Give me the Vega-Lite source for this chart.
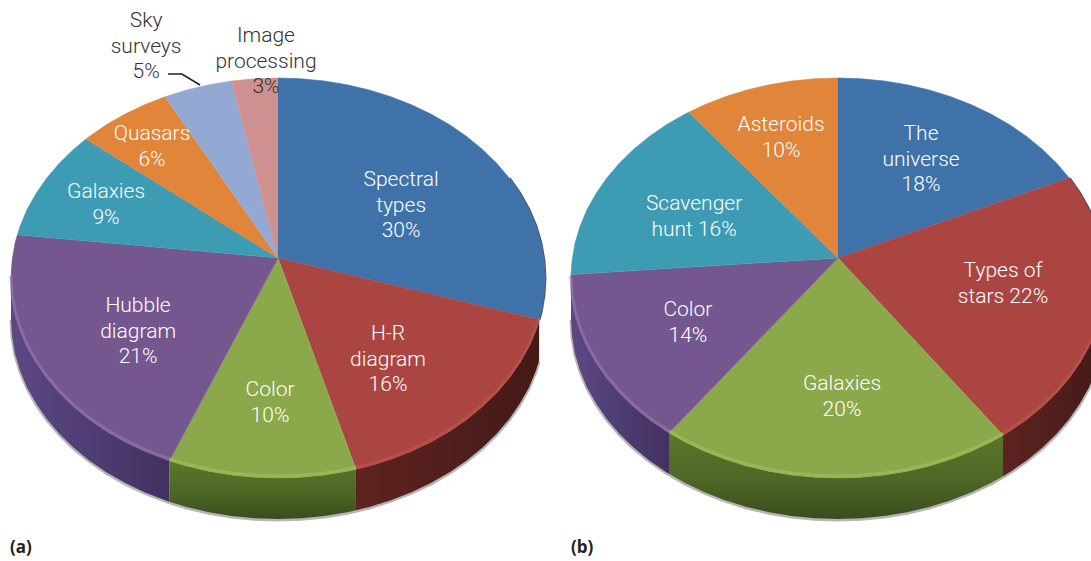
{
"$schema":"https://vega.github.io/schema/vega-lite/v6.json",
"background":"white","padding":0,"spacing":0,
"config":{"view":{"stroke":null},"concat":{"spacing":0}},
"datasets":{
"facesA":[
{"slice":"Spectral types","x":0,"y":0.1},{"slice":"Spectral types","x":0,"y":1},{"slice":"Spectral types","x":0.087,"y":0.996},{"slice":"Spectral types","x":0.174,"y":0.985},{"slice":"Spectral types","x":0.259,"y":0.966},{"slice":"Spectral types","x":0.342,"y":0.94},{"slice":"Spectral types","x":0.423,"y":0.906},{"slice":"Spectral types","x":0.5,"y":0.866},{"slice":"Spectral types","x":0.574,"y":0.819},{"slice":"Spectral types","x":0.643,"y":0.766},{"slice":"Spectral types","x":0.707,"y":0.707},{"slice":"Spectral types","x":0.766,"y":0.643},{"slice":"Spectral types","x":0.819,"y":0.574},{"slice":"Spectral types","x":0.866,"y":0.5},{"slice":"Spectral types","x":0.906,"y":0.423},{"slice":"Spectral types","x":0.94,"y":0.342},{"slice":"Spectral types","x":0.966,"y":0.259},{"slice":"Spectral types","x":0.985,"y":0.174},{"slice":"Spectral types","x":0.996,"y":0.087},{"slice":"Spectral types","x":1,"y":0},{"slice":"Spectral types","x":0.996,"y":-0.087},{"slice":"Spectral types","x":0.985,"y":-0.174},{"slice":"Spectral types","x":0.978,"y":-0.208},
{"slice":"H-R diagram","x":0,"y":0.1},{"slice":"H-R diagram","x":0.978,"y":-0.208},{"slice":"H-R diagram","x":0.966,"y":-0.259},{"slice":"H-R diagram","x":0.94,"y":-0.342},{"slice":"H-R diagram","x":0.906,"y":-0.423},{"slice":"H-R diagram","x":0.866,"y":-0.5},{"slice":"H-R diagram","x":0.819,"y":-0.574},{"slice":"H-R diagram","x":0.766,"y":-0.643},{"slice":"H-R diagram","x":0.707,"y":-0.707},{"slice":"H-R diagram","x":0.643,"y":-0.766},{"slice":"H-R diagram","x":0.574,"y":-0.819},{"slice":"H-R diagram","x":0.5,"y":-0.866},{"slice":"H-R diagram","x":0.423,"y":-0.906},{"slice":"H-R diagram","x":0.342,"y":-0.94},{"slice":"H-R diagram","x":0.292,"y":-0.956},
{"slice":"Color","x":0,"y":0.1},{"slice":"Color","x":0.292,"y":-0.956},{"slice":"Color","x":0.259,"y":-0.966},{"slice":"Color","x":0.174,"y":-0.985},{"slice":"Color","x":0.087,"y":-0.996},{"slice":"Color","x":0,"y":-1},{"slice":"Color","x":-0.087,"y":-0.996},{"slice":"Color","x":-0.174,"y":-0.985},{"slice":"Color","x":-0.259,"y":-0.966},{"slice":"Color","x":-0.342,"y":-0.94},{"slice":"Color","x":-0.407,"y":-0.914},
{"slice":"Hubble diagram","x":0,"y":0.1},{"slice":"Hubble diagram","x":-0.407,"y":-0.914},{"slice":"Hubble diagram","x":-0.423,"y":-0.906},{"slice":"Hubble diagram","x":-0.5,"y":-0.866},{"slice":"Hubble diagram","x":-0.574,"y":-0.819},{"slice":"Hubble diagram","x":-0.643,"y":-0.766},{"slice":"Hubble diagram","x":-0.707,"y":-0.707},{"slice":"Hubble diagram","x":-0.766,"y":-0.643},{"slice":"Hubble diagram","x":-0.819,"y":-0.574},{"slice":"Hubble diagram","x":-0.866,"y":-0.5},{"slice":"Hubble diagram","x":-0.906,"y":-0.423},{"slice":"Hubble diagram","x":-0.94,"y":-0.342},{"slice":"Hubble diagram","x":-0.966,"y":-0.259},{"slice":"Hubble diagram","x":-0.985,"y":-0.174},{"slice":"Hubble diagram","x":-0.996,"y":-0.087},{"slice":"Hubble diagram","x":-1,"y":0},{"slice":"Hubble diagram","x":-0.996,"y":0.087},{"slice":"Hubble diagram","x":-0.985,"y":0.174},{"slice":"Hubble diagram","x":-0.976,"y":0.216},
{"slice":"Galaxies","x":0,"y":0.1},{"slice":"Galaxies","x":-0.976,"y":0.216},{"slice":"Galaxies","x":-0.966,"y":0.259},{"slice":"Galaxies","x":-0.94,"y":0.342},{"slice":"Galaxies","x":-0.906,"y":0.423},{"slice":"Galaxies","x":-0.866,"y":0.5},{"slice":"Galaxies","x":-0.819,"y":0.574},{"slice":"Galaxies","x":-0.766,"y":0.643},{"slice":"Galaxies","x":-0.719,"y":0.695},
{"slice":"Quasars","x":0,"y":0.1},{"slice":"Quasars","x":-0.719,"y":0.695},{"slice":"Quasars","x":-0.707,"y":0.707},{"slice":"Quasars","x":-0.643,"y":0.766},{"slice":"Quasars","x":-0.574,"y":0.819},{"slice":"Quasars","x":-0.5,"y":0.866},{"slice":"Quasars","x":-0.423,"y":0.906},
{"slice":"Sky surveys","x":0,"y":0.1},{"slice":"Sky surveys","x":-0.423,"y":0.906},{"slice":"Sky surveys","x":-0.342,"y":0.94},{"slice":"Sky surveys","x":-0.259,"y":0.966},{"slice":"Sky surveys","x":-0.174,"y":0.985},
{"slice":"Image processing","x":0,"y":0.1},{"slice":"Image processing","x":-0.174,"y":0.985},{"slice":"Image processing","x":-0.087,"y":0.996},{"slice":"Image processing","x":0,"y":1}
],
"wallsA":[
{"slice":"H-R diagram","x":0.978,"y":-0.208,"y2":-0.413},{"slice":"H-R diagram","x":0.966,"y":-0.259,"y2":-0.464},{"slice":"H-R diagram","x":0.94,"y":-0.342,"y2":-0.547},{"slice":"H-R diagram","x":0.906,"y":-0.423,"y2":-0.628},{"slice":"H-R diagram","x":0.866,"y":-0.5,"y2":-0.705},{"slice":"H-R diagram","x":0.819,"y":-0.574,"y2":-0.779},{"slice":"H-R diagram","x":0.766,"y":-0.643,"y2":-0.848},{"slice":"H-R diagram","x":0.707,"y":-0.707,"y2":-0.912},{"slice":"H-R diagram","x":0.643,"y":-0.766,"y2":-0.971},{"slice":"H-R diagram","x":0.574,"y":-0.819,"y2":-1.024},{"slice":"H-R diagram","x":0.5,"y":-0.866,"y2":-1.071},{"slice":"H-R diagram","x":0.423,"y":-0.906,"y2":-1.111},{"slice":"H-R diagram","x":0.342,"y":-0.94,"y2":-1.145},{"slice":"H-R diagram","x":0.292,"y":-0.956,"y2":-1.161},
{"slice":"Color","x":0.292,"y":-0.956,"y2":-1.161},{"slice":"Color","x":0.259,"y":-0.966,"y2":-1.171},{"slice":"Color","x":0.174,"y":-0.985,"y2":-1.19},{"slice":"Color","x":0.087,"y":-0.996,"y2":-1.201},{"slice":"Color","x":0,"y":-1,"y2":-1.205},{"slice":"Color","x":-0.087,"y":-0.996,"y2":-1.201},{"slice":"Color","x":-0.174,"y":-0.985,"y2":-1.19},{"slice":"Color","x":-0.259,"y":-0.966,"y2":-1.171},{"slice":"Color","x":-0.342,"y":-0.94,"y2":-1.145},{"slice":"Color","x":-0.407,"y":-0.914,"y2":-1.119},
{"slice":"Hubble diagram","x":-0.407,"y":-0.914,"y2":-1.119},{"slice":"Hubble diagram","x":-0.423,"y":-0.906,"y2":-1.111},{"slice":"Hubble diagram","x":-0.5,"y":-0.866,"y2":-1.071},{"slice":"Hubble diagram","x":-0.574,"y":-0.819,"y2":-1.024},{"slice":"Hubble diagram","x":-0.643,"y":-0.766,"y2":-0.971},{"slice":"Hubble diagram","x":-0.707,"y":-0.707,"y2":-0.912},{"slice":"Hubble diagram","x":-0.766,"y":-0.643,"y2":-0.848},{"slice":"Hubble diagram","x":-0.819,"y":-0.574,"y2":-0.779},{"slice":"Hubble diagram","x":-0.866,"y":-0.5,"y2":-0.705},{"slice":"Hubble diagram","x":-0.906,"y":-0.423,"y2":-0.628},{"slice":"Hubble diagram","x":-0.94,"y":-0.342,"y2":-0.547},{"slice":"Hubble diagram","x":-0.966,"y":-0.259,"y2":-0.464},{"slice":"Hubble diagram","x":-0.985,"y":-0.174,"y2":-0.379},{"slice":"Hubble diagram","x":-0.996,"y":-0.087,"y2":-0.292},{"slice":"Hubble diagram","x":-1,"y":0,"y2":-0.205}
],
"edgeA":[{"x":0.866,"y":0.5},{"x":0.906,"y":0.423},{"x":0.94,"y":0.342},{"x":0.966,"y":0.259},{"x":0.985,"y":0.174},{"x":0.996,"y":0.087},{"x":1,"y":0},{"x":0.996,"y":-0.087},{"x":0.985,"y":-0.174},{"x":0.978,"y":-0.208}],
"labelsA":[
{"slice":"Spectral types","percent":30,"label":"Spectral\ntypes\n30%","x":0.461,"y":0.49},
{"slice":"H-R diagram","percent":16,"label":"H-R\ndiagram\n16%","x":0.412,"y":-0.28},
{"slice":"Color","percent":10,"label":"Color\n10%","x":-0.03,"y":-0.56},
{"slice":"Hubble diagram","percent":21,"label":"Hubble\ndiagram\n21%","x":-0.524,"y":-0.14},
{"slice":"Galaxies","percent":9,"label":"Galaxies\n9%","x":-0.644,"y":0.43},
{"slice":"Quasars","percent":6,"label":"Quasars\n6%","x":-0.472,"y":0.72},
{"slice":"Sky surveys","percent":5,"label":"Sky\nsurveys\n5%","x":-0.494,"y":1.285},
{"slice":"Image processing","percent":3,"label":"Image\nprocessing\n3%","x":-0.045,"y":1.21}
],
"leaderA":[{"x":-0.412,"y":1.02},{"x":-0.36,"y":1.02},{"x":-0.292,"y":0.965}],
"captionA":[{"label":"(a)","x":-1.004,"y":-1.35}],
"facesB":[
{"slice":"The universe","x":0,"y":0.1},{"slice":"The universe","x":0,"y":1},{"slice":"The universe","x":0.087,"y":0.996},{"slice":"The universe","x":0.174,"y":0.985},{"slice":"The universe","x":0.259,"y":0.966},{"slice":"The universe","x":0.342,"y":0.94},{"slice":"The universe","x":0.423,"y":0.906},{"slice":"The universe","x":0.5,"y":0.866},{"slice":"The universe","x":0.574,"y":0.819},{"slice":"The universe","x":0.643,"y":0.766},{"slice":"The universe","x":0.707,"y":0.707},{"slice":"The universe","x":0.766,"y":0.643},{"slice":"The universe","x":0.819,"y":0.574},{"slice":"The universe","x":0.866,"y":0.5},
{"slice":"Types of stars","x":0,"y":0.1},{"slice":"Types of stars","x":0.866,"y":0.5},{"slice":"Types of stars","x":0.906,"y":0.423},{"slice":"Types of stars","x":0.94,"y":0.342},{"slice":"Types of stars","x":0.966,"y":0.259},{"slice":"Types of stars","x":0.985,"y":0.174},{"slice":"Types of stars","x":0.996,"y":0.087},{"slice":"Types of stars","x":1,"y":0},{"slice":"Types of stars","x":0.996,"y":-0.087},{"slice":"Types of stars","x":0.985,"y":-0.174},{"slice":"Types of stars","x":0.966,"y":-0.259},{"slice":"Types of stars","x":0.94,"y":-0.342},{"slice":"Types of stars","x":0.906,"y":-0.423},{"slice":"Types of stars","x":0.866,"y":-0.5},{"slice":"Types of stars","x":0.819,"y":-0.574},{"slice":"Types of stars","x":0.766,"y":-0.643},{"slice":"Types of stars","x":0.707,"y":-0.707},{"slice":"Types of stars","x":0.643,"y":-0.766},{"slice":"Types of stars","x":0.618,"y":-0.786},
{"slice":"Galaxies","x":0,"y":0.1},{"slice":"Galaxies","x":0.618,"y":-0.786},{"slice":"Galaxies","x":0.574,"y":-0.819},{"slice":"Galaxies","x":0.5,"y":-0.866},{"slice":"Galaxies","x":0.423,"y":-0.906},{"slice":"Galaxies","x":0.342,"y":-0.94},{"slice":"Galaxies","x":0.259,"y":-0.966},{"slice":"Galaxies","x":0.174,"y":-0.985},{"slice":"Galaxies","x":0.087,"y":-0.996},{"slice":"Galaxies","x":0,"y":-1},{"slice":"Galaxies","x":-0.087,"y":-0.996},{"slice":"Galaxies","x":-0.174,"y":-0.985},{"slice":"Galaxies","x":-0.259,"y":-0.966},{"slice":"Galaxies","x":-0.342,"y":-0.94},{"slice":"Galaxies","x":-0.423,"y":-0.906},{"slice":"Galaxies","x":-0.5,"y":-0.866},{"slice":"Galaxies","x":-0.574,"y":-0.819},{"slice":"Galaxies","x":-0.633,"y":-0.774},
{"slice":"Color","x":0,"y":0.1},{"slice":"Color","x":-0.633,"y":-0.774},{"slice":"Color","x":-0.643,"y":-0.766},{"slice":"Color","x":-0.707,"y":-0.707},{"slice":"Color","x":-0.766,"y":-0.643},{"slice":"Color","x":-0.819,"y":-0.574},{"slice":"Color","x":-0.866,"y":-0.5},{"slice":"Color","x":-0.906,"y":-0.423},{"slice":"Color","x":-0.94,"y":-0.342},{"slice":"Color","x":-0.966,"y":-0.259},{"slice":"Color","x":-0.985,"y":-0.174},{"slice":"Color","x":-0.996,"y":-0.087},{"slice":"Color","x":-1,"y":0.017},
{"slice":"Scavenger hunt","x":0,"y":0.1},{"slice":"Scavenger hunt","x":-1,"y":0.017},{"slice":"Scavenger hunt","x":-0.996,"y":0.087},{"slice":"Scavenger hunt","x":-0.985,"y":0.174},{"slice":"Scavenger hunt","x":-0.966,"y":0.259},{"slice":"Scavenger hunt","x":-0.94,"y":0.342},{"slice":"Scavenger hunt","x":-0.906,"y":0.423},{"slice":"Scavenger hunt","x":-0.866,"y":0.5},{"slice":"Scavenger hunt","x":-0.819,"y":0.574},{"slice":"Scavenger hunt","x":-0.766,"y":0.643},{"slice":"Scavenger hunt","x":-0.707,"y":0.707},{"slice":"Scavenger hunt","x":-0.643,"y":0.766},{"slice":"Scavenger hunt","x":-0.574,"y":0.819},{"slice":"Scavenger hunt","x":-0.559,"y":0.829},
{"slice":"Asteroids","x":0,"y":0.1},{"slice":"Asteroids","x":-0.559,"y":0.829},{"slice":"Asteroids","x":-0.5,"y":0.866},{"slice":"Asteroids","x":-0.423,"y":0.906},{"slice":"Asteroids","x":-0.342,"y":0.94},{"slice":"Asteroids","x":-0.259,"y":0.966},{"slice":"Asteroids","x":-0.174,"y":0.985},{"slice":"Asteroids","x":-0.087,"y":0.996},{"slice":"Asteroids","x":0,"y":1}
],
"wallsB":[
{"slice":"Types of stars","x":1,"y":0,"y2":-0.205},{"slice":"Types of stars","x":0.996,"y":-0.087,"y2":-0.292},{"slice":"Types of stars","x":0.985,"y":-0.174,"y2":-0.379},{"slice":"Types of stars","x":0.966,"y":-0.259,"y2":-0.464},{"slice":"Types of stars","x":0.94,"y":-0.342,"y2":-0.547},{"slice":"Types of stars","x":0.906,"y":-0.423,"y2":-0.628},{"slice":"Types of stars","x":0.866,"y":-0.5,"y2":-0.705},{"slice":"Types of stars","x":0.819,"y":-0.574,"y2":-0.779},{"slice":"Types of stars","x":0.766,"y":-0.643,"y2":-0.848},{"slice":"Types of stars","x":0.707,"y":-0.707,"y2":-0.912},{"slice":"Types of stars","x":0.643,"y":-0.766,"y2":-0.971},{"slice":"Types of stars","x":0.618,"y":-0.786,"y2":-0.991},
{"slice":"Galaxies","x":0.618,"y":-0.786,"y2":-0.991},{"slice":"Galaxies","x":0.574,"y":-0.819,"y2":-1.024},{"slice":"Galaxies","x":0.5,"y":-0.866,"y2":-1.071},{"slice":"Galaxies","x":0.423,"y":-0.906,"y2":-1.111},{"slice":"Galaxies","x":0.342,"y":-0.94,"y2":-1.145},{"slice":"Galaxies","x":0.259,"y":-0.966,"y2":-1.171},{"slice":"Galaxies","x":0.174,"y":-0.985,"y2":-1.19},{"slice":"Galaxies","x":0.087,"y":-0.996,"y2":-1.201},{"slice":"Galaxies","x":0,"y":-1,"y2":-1.205},{"slice":"Galaxies","x":-0.087,"y":-0.996,"y2":-1.201},{"slice":"Galaxies","x":-0.174,"y":-0.985,"y2":-1.19},{"slice":"Galaxies","x":-0.259,"y":-0.966,"y2":-1.171},{"slice":"Galaxies","x":-0.342,"y":-0.94,"y2":-1.145},{"slice":"Galaxies","x":-0.423,"y":-0.906,"y2":-1.111},{"slice":"Galaxies","x":-0.5,"y":-0.866,"y2":-1.071},{"slice":"Galaxies","x":-0.574,"y":-0.819,"y2":-1.024},{"slice":"Galaxies","x":-0.633,"y":-0.774,"y2":-0.979},
{"slice":"Color","x":-0.633,"y":-0.774,"y2":-0.979},{"slice":"Color","x":-0.643,"y":-0.766,"y2":-0.971},{"slice":"Color","x":-0.707,"y":-0.707,"y2":-0.912},{"slice":"Color","x":-0.766,"y":-0.643,"y2":-0.848},{"slice":"Color","x":-0.819,"y":-0.574,"y2":-0.779},{"slice":"Color","x":-0.866,"y":-0.5,"y2":-0.705},{"slice":"Color","x":-0.906,"y":-0.423,"y2":-0.628},{"slice":"Color","x":-0.94,"y":-0.342,"y2":-0.547},{"slice":"Color","x":-0.966,"y":-0.259,"y2":-0.464},{"slice":"Color","x":-0.985,"y":-0.174,"y2":-0.379},{"slice":"Color","x":-0.996,"y":-0.087,"y2":-0.292},{"slice":"Color","x":-1,"y":0,"y2":-0.205}
],
"edgeB":[{"x":0.866,"y":0.5},{"x":0.906,"y":0.423},{"x":0.94,"y":0.342},{"x":0.966,"y":0.259},{"x":0.985,"y":0.174}],
"labelsB":[
{"slice":"The universe","percent":18,"label":"The\nuniverse\n18%","x":0.311,"y":0.72},
{"slice":"Types of stars","percent":22,"label":"Types of\nstars 22%","x":0.618,"y":0.035},
{"slice":"Galaxies","percent":20,"label":"Galaxies\n20%","x":0.015,"y":-0.53},
{"slice":"Color","percent":14,"label":"Color\n14%","x":-0.562,"y":-0.16},
{"slice":"Scavenger hunt","percent":16,"label":"Scavenger\nhunt 16%","x":-0.539,"y":0.37},
{"slice":"Asteroids","percent":10,"label":"Asteroids\n10%","x":-0.213,"y":0.765}
],
"captionB":[{"label":"(b)","x":-1,"y":-1.35}]
},
"hconcat":[
{"width":560,"height":561,
"encoding":{"x":{"field":"x","type":"quantitative","axis":null,"scale":{"domain":[-1.0412,1.0562],"nice":false,"zero":false}},"y":{"field":"y","type":"quantitative","axis":null,"scale":{"domain":[-1.415,1.39],"nice":false,"zero":false}}},
"resolve":{"scale":{"fill":"independent","stroke":"independent"}},
"layer":[
{"data":{"name":"wallsA"},"mark":{"type":"line","stroke":"#a3a3a3","strokeWidth":3,"yOffset":1,"opacity":0.8},"encoding":{"y":{"field":"y2","type":"quantitative"},"detail":{"field":"slice"}}},
{"data":{"name":"wallsA"},"transform":[{"filter":{"field":"slice","equal":"H-R diagram"}}],"mark":{"type":"area","fill":{"gradient":"linear","x1":0,"y1":0,"x2":1,"y2":0,"stops":[{"offset":0,"color":"#5e2320"},{"offset":1,"color":"#431a17"}]}},"encoding":{"y2":{"field":"y2"}}},
{"data":{"name":"wallsA"},"transform":[{"filter":{"field":"slice","equal":"Color"}}],"mark":{"type":"area","fill":{"gradient":"linear","x1":0,"y1":0,"x2":0,"y2":1,"stops":[{"offset":0,"color":"#5a7729"},{"offset":0.55,"color":"#4d6726"},{"offset":1,"color":"#3a4c1e"}]}},"encoding":{"y2":{"field":"y2"}}},
{"data":{"name":"wallsA"},"transform":[{"filter":{"field":"slice","equal":"Hubble diagram"}}],"mark":{"type":"area","fill":{"gradient":"linear","x1":0,"y1":0,"x2":1,"y2":0,"stops":[{"offset":0,"color":"#5d4884"},{"offset":1,"color":"#423160"}]}},"encoding":{"y2":{"field":"y2"}}},
{"data":{"name":"edgeA"},"mark":{"type":"line","stroke":"#1e3550","strokeWidth":2,"xOffset":0.5,"opacity":0.8},"encoding":{"order":{"value":null}}},
{"data":{"name":"facesA"},"mark":{"type":"line","strokeWidth":0.6},"encoding":{"order":{"value":null},
"fill":{"field":"slice","type":"nominal","legend":null,"scale":{"domain":["Spectral types","H-R diagram","Color","Hubble diagram","Galaxies","Quasars","Sky surveys","Image processing"],"range":["#3f72a9","#ab4542","#8ba84b","#75578f","#3d9bb3","#e0853a","#93a9d3","#cf9190"]}},
"stroke":{"field":"slice","type":"nominal","legend":null,"scale":{"domain":["Spectral types","H-R diagram","Color","Hubble diagram","Galaxies","Quasars","Sky surveys","Image processing"],"range":["#3f72a9","#ab4542","#8ba84b","#75578f","#3d9bb3","#e0853a","#93a9d3","#cf9190"]}}}},
{"data":{"name":"wallsA"},"mark":{"type":"line","strokeWidth":3,"yOffset":-2,"opacity":0.7},"encoding":{"stroke":{"field":"slice","type":"nominal","legend":null,"scale":{"domain":["H-R diagram","Color","Hubble diagram"],"range":["#ba5450","#a0bd5c","#8d72ac"]}}}},
{"data":{"name":"leaderA"},"mark":{"type":"line","stroke":"#222222","strokeWidth":1.6},"encoding":{"order":{"value":null}}},
{"data":{"name":"labelsA"},"mark":{"type":"text","font":"Roboto","fontWeight":300,"fontSize":21,"lineHeight":25.5,"lineBreak":"\n","align":"center","baseline":"middle"},"encoding":{"text":{"field":"label","type":"nominal"},"color":{"condition":{"test":"datum.percent<=5","value":"#333333"},"value":"#ffffff"}}},
{"data":{"name":"captionA"},"mark":{"type":"text","font":"Open Sans","fontWeight":"bold","fontSize":17,"align":"left","baseline":"middle","color":"#222222"},"encoding":{"text":{"field":"label","type":"nominal"}}}
]},
{"width":531,"height":561,
"encoding":{"x":{"field":"x","type":"quantitative","axis":null,"scale":{"domain":[-1.0412,0.9476],"nice":false,"zero":false}},"y":{"field":"y","type":"quantitative","axis":null,"scale":{"domain":[-1.415,1.39],"nice":false,"zero":false}}},
"resolve":{"scale":{"fill":"independent","stroke":"independent"}},
"layer":[
{"data":{"name":"wallsB"},"mark":{"type":"line","clip":true,"stroke":"#a3a3a3","strokeWidth":3,"yOffset":1,"opacity":0.8},"encoding":{"y":{"field":"y2","type":"quantitative"},"detail":{"field":"slice"}}},
{"data":{"name":"wallsB"},"transform":[{"filter":{"field":"slice","equal":"Types of stars"}}],"mark":{"type":"area","clip":true,"fill":{"gradient":"linear","x1":0,"y1":0,"x2":1,"y2":0,"stops":[{"offset":0,"color":"#5e2320"},{"offset":1,"color":"#431a17"}]}},"encoding":{"y2":{"field":"y2"}}},
{"data":{"name":"wallsB"},"transform":[{"filter":{"field":"slice","equal":"Galaxies"}}],"mark":{"type":"area","clip":true,"fill":{"gradient":"linear","x1":0,"y1":0,"x2":0,"y2":1,"stops":[{"offset":0,"color":"#5a7729"},{"offset":0.55,"color":"#4d6726"},{"offset":1,"color":"#3a4c1e"}]}},"encoding":{"y2":{"field":"y2"}}},
{"data":{"name":"wallsB"},"transform":[{"filter":{"field":"slice","equal":"Color"}}],"mark":{"type":"area","clip":true,"fill":{"gradient":"linear","x1":0,"y1":0,"x2":1,"y2":0,"stops":[{"offset":0,"color":"#5d4884"},{"offset":1,"color":"#423160"}]}},"encoding":{"y2":{"field":"y2"}}},
{"data":{"name":"edgeB"},"mark":{"type":"line","clip":true,"stroke":"#33201e","strokeWidth":2,"xOffset":0.5,"opacity":0.8},"encoding":{"order":{"value":null}}},
{"data":{"name":"facesB"},"mark":{"type":"line","clip":true,"strokeWidth":0.6},"encoding":{"order":{"value":null},
"fill":{"field":"slice","type":"nominal","legend":null,"scale":{"domain":["The universe","Types of stars","Galaxies","Color","Scavenger hunt","Asteroids"],"range":["#3f72a9","#ab4542","#8ba84b","#75578f","#3d9bb3","#e0853a"]}},
"stroke":{"field":"slice","type":"nominal","legend":null,"scale":{"domain":["The universe","Types of stars","Galaxies","Color","Scavenger hunt","Asteroids"],"range":["#3f72a9","#ab4542","#8ba84b","#75578f","#3d9bb3","#e0853a"]}}}},
{"data":{"name":"wallsB"},"mark":{"type":"line","clip":true,"strokeWidth":3,"yOffset":-2,"opacity":0.7},"encoding":{"stroke":{"field":"slice","type":"nominal","legend":null,"scale":{"domain":["Types of stars","Galaxies","Color"],"range":["#ba5450","#a0bd5c","#8d72ac"]}}}},
{"data":{"name":"labelsB"},"mark":{"type":"text","font":"Roboto","fontWeight":300,"fontSize":21,"lineHeight":25.5,"lineBreak":"\n","align":"center","baseline":"middle","color":"#ffffff"},"encoding":{"text":{"field":"label","type":"nominal"}}},
{"data":{"name":"captionB"},"mark":{"type":"text","font":"Open Sans","fontWeight":"bold","fontSize":17,"align":"left","baseline":"middle","color":"#222222"},"encoding":{"text":{"field":"label","type":"nominal"}}}
]}
]
}
